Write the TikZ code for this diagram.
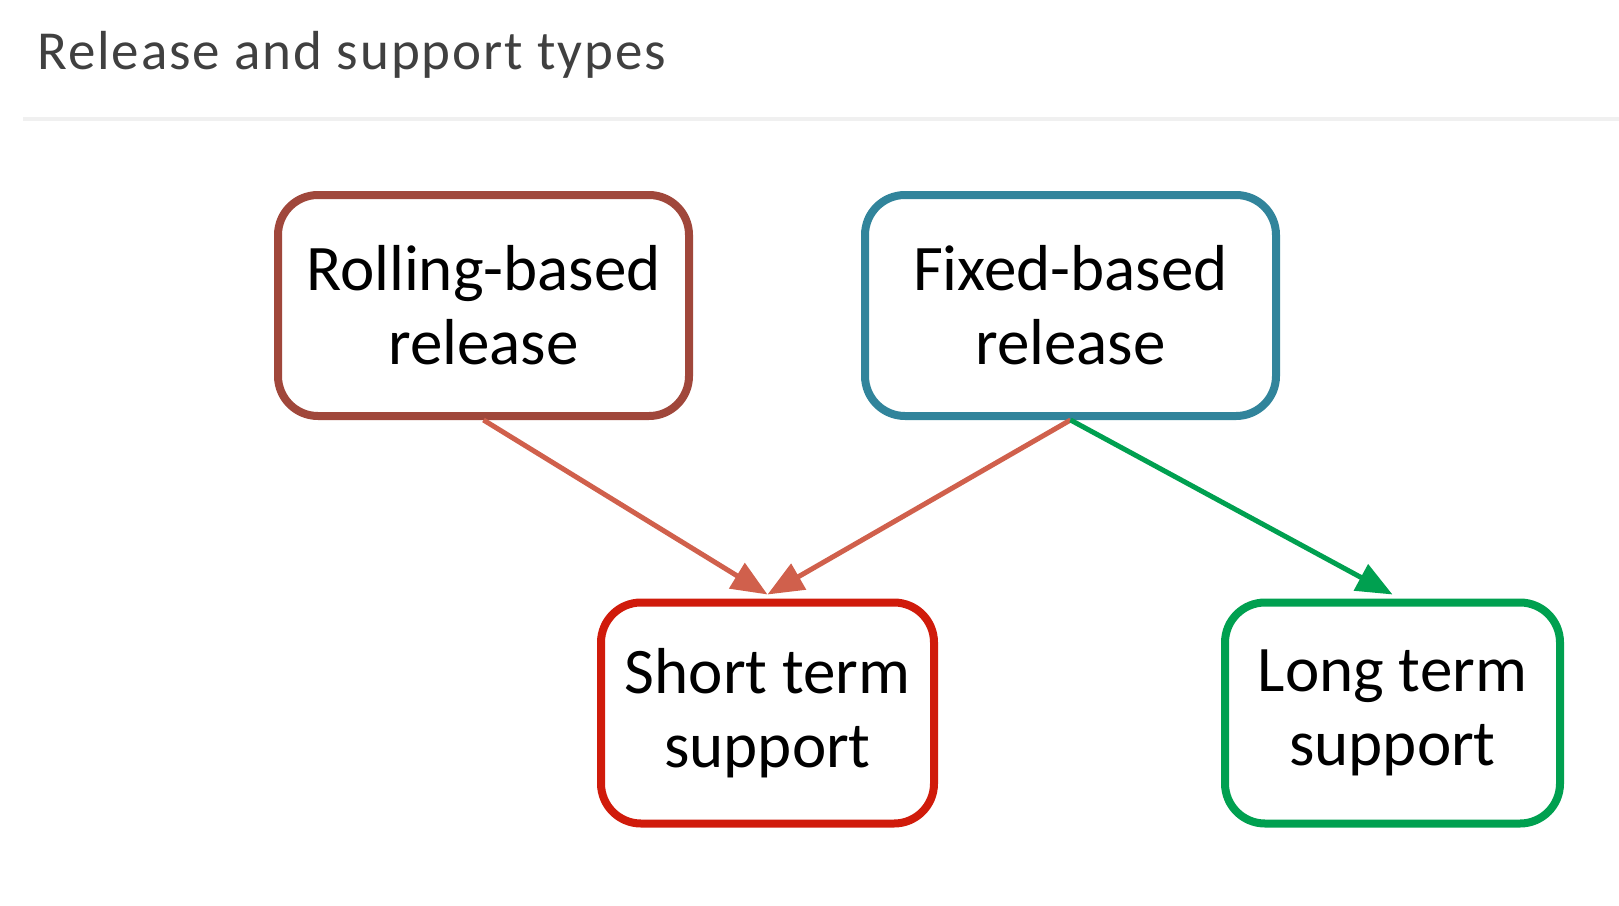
\documentclass[tikz,border=0pt]{standalone}
\usepackage{fontspec}
\setmainfont{Carlito}
\newfontfamily\titlefont[LetterSpace=3.5]{Carlito}
\usetikzlibrary{arrows.meta}

\definecolor{rollred}{HTML}{A0473B}
\definecolor{fixblue}{HTML}{31849B}
\definecolor{shortred}{HTML}{D01B0B}
\definecolor{longgreen}{HTML}{00A050}
\definecolor{arrowred}{HTML}{D0604C}

\begin{document}
\begin{tikzpicture}[x=1pt,y=-1pt,line join=round]
\tikzstyle{box}=[rectangle,rounded corners=40pt,line width=8pt,fill=white,align=center,
  minimum height=221pt,font=\fontsize{65}{74}\selectfont]
\tikzstyle{link}=[line width=5pt,-{Triangle[length=36pt,width=29pt]}]
\useasboundingbox (0,0) rectangle (1619,905);
\node[anchor=base west,inner sep=0pt,text=black!75,font=\titlefont\fontsize{55}{60}\selectfont](title) at (37,69) {Release and support types};
\draw[black!6,line width=4pt] (23,119) -- (1619,119);

\node[box,draw=rollred,minimum width=411pt](roll) at (483.5,305.5) {Rolling-based\\release};
\node[box,draw=fixblue,minimum width=411pt](fixed) at (1070.5,305.5) {Fixed-based\\release};
\node[box,draw=shortred,minimum width=333pt](short) at (767.5,713) {Short term\\support};
\node[box,draw=longgreen,minimum width=335pt](long) at (1392.5,713) {Long term\\support};

\coordinate (shorttop) at ([yshift=4pt]short.north);
\coordinate (longtop) at ([yshift=4pt]long.north);
\draw[link,arrowred] (roll.south) -- (shorttop);
\draw[link,arrowred] (fixed.south) -- (shorttop);
\draw[link,longgreen] (fixed.south) -- (longtop);
\end{tikzpicture}
\end{document}
